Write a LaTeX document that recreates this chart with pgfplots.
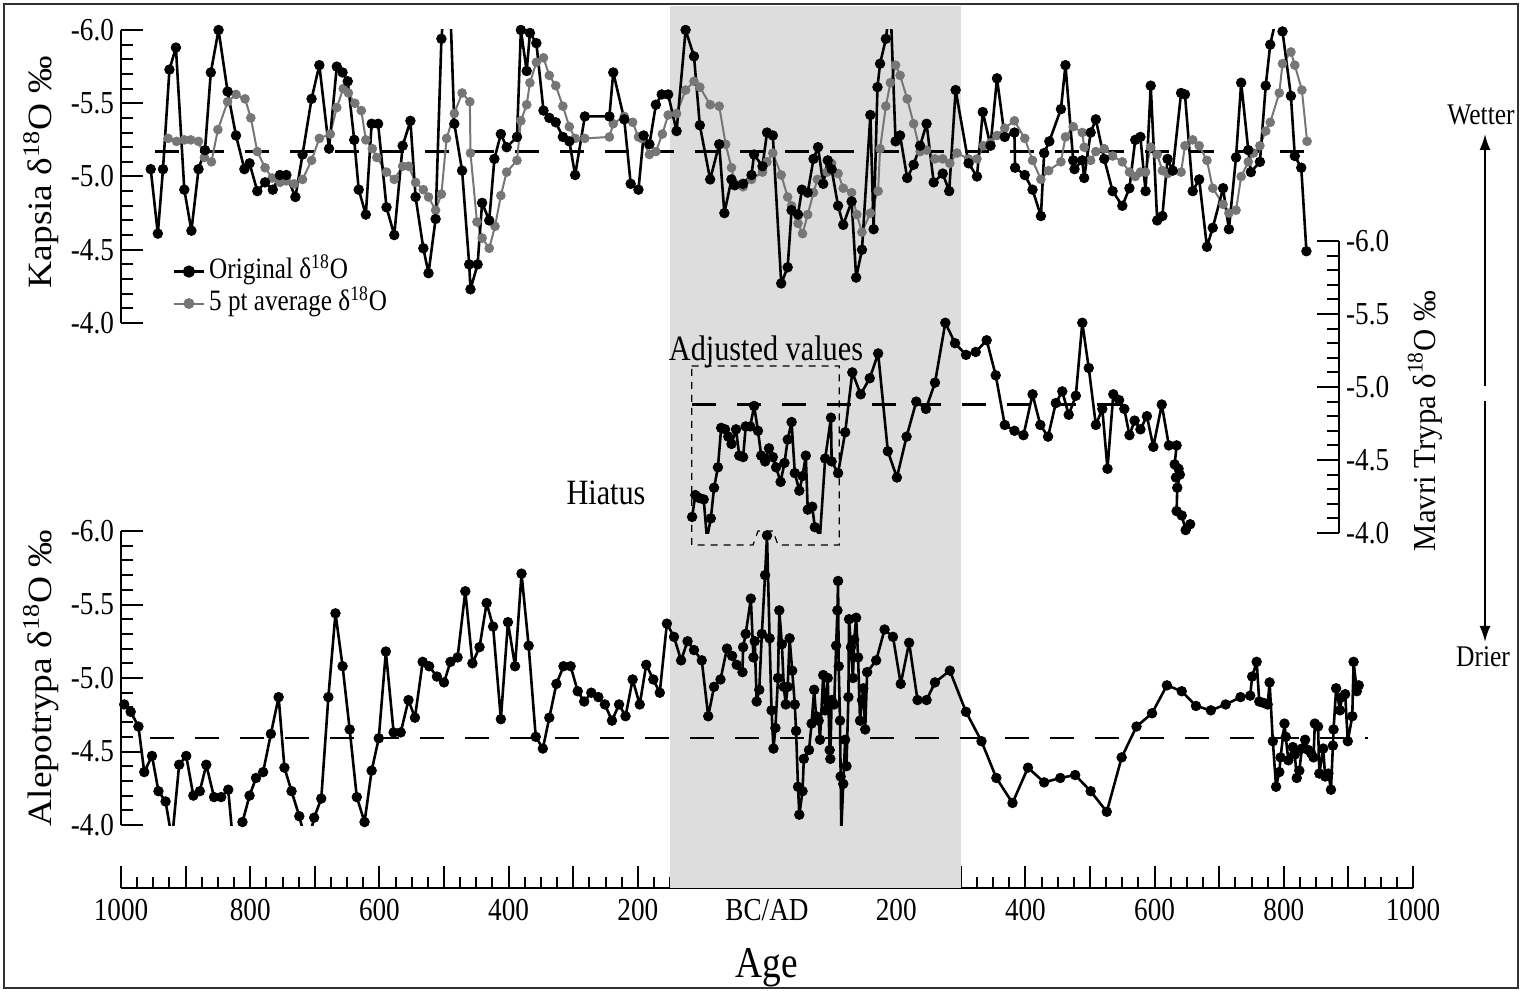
\documentclass[border=0pt]{standalone}
\usepackage{fontspec}
\setmainfont{Liberation Serif}[FakeStretch=0.85]
\newfontfamily\vfont{Liberation Serif}[FakeStretch=1.1]
\newfontfamily\vfontb{Liberation Serif}[FakeStretch=0.96]
\usepackage{pgfplots}
\usepackage{pgfplotstable}
\pgfplotsset{compat=1.18}
\usetikzlibrary{arrows.meta}

\definecolor{avg}{RGB}{118,118,118}
\definecolor{shade}{RGB}{221,221,221}
\definecolor{framec}{RGB}{50,50,50}

\newcommand\tickfont{\fontsize{16}{18}\selectfont}
\newcommand\vlabfont{\vfont\fontsize{17}{19}\selectfont}
\newcommand\legfont{\fontsize{14.8}{16}\selectfont}
\newcommand\annfont{\fontsize{17.8}{20}\selectfont}
\newcommand\smallfont{\fontsize{15}{17}\selectfont}

% Kapsia, original record
\pgfplotstableread{
x y
-954 -5.05
-943 -4.61
-935 -5.05
-925 -5.73
-915 -5.88
-902 -4.91
-891 -4.63
-880 -5.05
-870 -5.18
-861 -5.71
-849 -6.00
-835 -5.58
-822 -5.28
-809 -5.05
-801 -5.09
-789 -4.90
-777 -4.96
-765 -4.91
-754 -5.01
-744 -5.01
-730 -4.86
-719 -5.15
-705 -5.53
-693 -5.76
-678 -5.19
-666 -5.75
-657 -5.71
-649 -5.65
-639 -5.25
-632 -4.91
-621 -4.74
-612 -5.36
-602 -5.36
-589 -4.79
-577 -4.60
-564 -5.21
-552 -5.38
-544 -4.86
-532 -4.51
-524 -4.34
-513 -4.71
-504 -5.94
-493 -6.50
-484 -5.36
-472 -5.04
-461 -4.40
-459 -4.23
-448 -4.40
-441 -4.82
-430 -4.70
-422 -5.12
-412 -5.29
-403 -5.20
-387 -5.27
-381 -6.00
-372 -5.72
-367 -5.98
-357 -5.91
-346 -5.45
-337 -5.40
-327 -5.37
-316 -5.27
-306 -5.24
-297 -5.01
-282 -5.41
-244 -5.41
-238 -5.71
-221 -5.39
-211 -4.95
-199 -4.91
-191 -5.28
-182 -5.22
-172 -5.49
-163 -5.56
-153 -5.56
-140 -5.31
-126 -6.00
-113 -5.82
-104 -5.35
-88 -4.98
-74 -5.22
-66 -4.75
-55 -4.98
-50 -4.94
-37 -4.95
-24 -5.01
-20 -5.15
-7 -5.07
0 -5.30
9 -5.28
22 -4.27
32 -4.38
38 -4.77
48 -4.74
54 -4.91
63 -4.89
72 -5.12
79 -5.20
87 -4.95
94 -5.11
100 -5.05
110 -4.80
118 -4.67
131 -4.83
138 -4.31
147 -4.50
160 -5.42
165 -4.64
171 -5.61
175 -5.77
184 -5.94
191 -6.19
199 -5.24
206 -5.28
217 -4.99
227 -5.08
237 -5.21
247 -5.36
258 -4.96
272 -5.02
282 -4.90
292 -5.59
312 -5.09
325 -5.00
334 -5.44
346 -5.21
356 -5.67
368 -5.27
383 -5.30
384 -5.06
399 -5.01
411 -4.91
424 -4.73
429 -5.16
437 -5.24
455 -5.46
462 -5.76
474 -5.11
476 -5.05
488 -5.11
491 -4.99
501 -5.30
509 -5.39
522 -5.12
535 -4.90
550 -4.80
561 -4.92
570 -5.25
578 -5.27
586 -4.90
594 -5.62
604 -4.70
612 -4.73
620 -5.12
628 -5.04
641 -5.57
647 -5.56
659 -4.90
669 -4.98
681 -4.52
690 -4.65
706 -4.92
715 -4.64
726 -5.13
734 -5.64
745 -5.18
749 -5.03
763 -5.10
772 -5.62
779 -5.90
787 -6.06
798 -5.99
811 -5.55
817 -5.14
827 -5.06
835 -4.49
}\kapsia

% Kapsia, 5 pt average
\pgfplotstableread{
x y
-927 -5.26
-914 -5.24
-902 -5.25
-892 -5.25
-880 -5.24
-871 -5.13
-860 -5.10
-850 -5.32
-835 -5.51
-822 -5.56
-808 -5.53
-799 -5.40
-789 -5.17
-777 -5.06
-766 -4.99
-754 -4.96
-744 -4.97
-732 -4.95
-719 -4.98
-705 -5.11
-693 -5.26
-676 -5.29
-666 -5.47
-656 -5.60
-648 -5.57
-638 -5.50
-628 -5.45
-621 -5.25
-611 -5.19
-604 -5.13
-589 -5.03
-577 -4.98
-564 -5.07
-555 -5.07
-544 -4.96
-532 -4.91
-524 -4.86
-513 -4.77
-504 -4.88
-496 -5.26
-484 -5.43
-472 -5.57
-460 -5.51
-459 -5.16
-449 -4.69
-441 -4.58
-430 -4.51
-421 -4.66
-412 -4.87
-403 -5.03
-387 -5.11
-381 -5.38
-372 -5.49
-367 -5.64
-357 -5.78
-346 -5.81
-337 -5.69
-327 -5.62
-316 -5.48
-306 -5.34
-297 -5.26
-282 -5.26
-244 -5.27
-238 -5.36
-221 -5.41
-208 -5.37
-199 -5.27
-194 -5.26
-182 -5.15
-172 -5.17
-162 -5.29
-153 -5.42
-140 -5.43
-126 -5.59
-113 -5.65
-104 -5.61
-88 -5.49
-74 -5.48
-64 -5.22
-55 -5.06
-50 -4.95
-37 -4.93
-24 -4.98
-7 -5.03
0 -5.10
9 -5.16
22 -5.01
32 -4.86
38 -4.80
48 -4.68
55 -4.61
63 -4.74
72 -4.89
78 -4.98
93 -5.03
100 -5.09
110 -5.02
118 -4.92
131 -4.89
139 -4.74
147 -4.62
160 -4.75
172 -4.90
175 -5.19
184 -5.48
191 -5.64
199 -5.76
206 -5.69
217 -5.53
227 -5.36
237 -5.17
247 -5.18
260 -5.12
272 -5.12
283 -5.09
294 -5.16
312 -5.12
325 -5.12
335 -5.21
346 -5.23
356 -5.28
368 -5.33
383 -5.38
399 -5.26
411 -5.11
424 -4.98
436 -5.04
455 -5.10
462 -5.27
474 -5.34
488 -5.30
491 -5.20
501 -5.11
509 -5.17
522 -5.19
535 -5.14
550 -5.10
561 -5.03
570 -5.00
578 -5.03
586 -5.03
594 -5.20
604 -5.15
612 -5.04
620 -5.02
628 -5.04
641 -5.03
647 -5.21
659 -5.25
669 -5.21
681 -5.11
690 -4.92
706 -4.81
715 -4.75
726 -4.77
734 -5.00
745 -5.10
753 -5.16
763 -5.21
772 -5.31
779 -5.37
793 -5.57
798 -5.77
811 -5.85
817 -5.76
828 -5.59
836 -5.24
}\kapsiaavg

% Mavri Trypa
\pgfplotstableread{
x y
-116 -4.11
-111 -4.26
-105 -4.24
-98 -4.23
-93 -3.96
-87 -4.10
-82 -4.31
-76 -4.45
-71 -4.72
-65 -4.71
-60 -4.66
-55 -4.61
-48 -4.71
-43 -4.53
-37 -4.52
-33 -4.73
-26 -4.73
-20 -4.87
-14 -4.70
-9 -4.53
-3 -4.49
3 -4.58
9 -4.52
14 -4.45
21 -4.35
27 -4.48
32 -4.64
38 -4.76
43 -4.41
50 -4.29
55 -4.39
60 -4.53
63 -4.16
70 -4.18
74 -4.04
82 -3.98
90 -4.51
99 -4.79
100 -4.49
110 -4.41
121 -4.69
132 -5.10
145 -4.95
159 -5.06
172 -5.23
187 -4.56
201 -4.38
216 -4.66
231 -4.90
246 -4.85
260 -5.03
276 -5.44
291 -5.30
308 -5.22
323 -5.24
340 -5.32
354 -5.08
368 -4.74
383 -4.70
397 -4.67
411 -4.95
423 -4.74
435 -4.66
447 -4.89
457 -4.97
467 -4.81
478 -4.94
488 -5.44
498 -5.13
509 -4.74
519 -4.85
527 -4.44
536 -4.95
545 -4.91
553 -4.85
561 -4.67
569 -4.77
578 -4.71
588 -4.80
598 -4.59
611 -4.88
622 -4.60
634 -4.60
631 -4.47
637 -4.44
633 -4.38
639 -4.40
635 -4.31
634 -4.15
642 -4.12
648 -4.02
655 -4.06
}\mavri

% Alepotrypa
\pgfplotstableread{
x y
-1008 -4.88
-995 -4.82
-985 -4.77
-973 -4.67
-964 -4.36
-952 -4.47
-942 -4.23
-931 -4.16
-921 -3.90
-910 -4.41
-899 -4.47
-888 -4.20
-878 -4.23
-868 -4.41
-856 -4.19
-845 -4.19
-834 -4.24
-827 -3.90
-812 -4.02
-801 -4.20
-791 -4.32
-780 -4.36
-768 -4.62
-756 -4.87
-747 -4.39
-736 -4.23
-724 -4.06
-712 -3.85
-701 -4.05
-690 -4.18
-679 -4.87
-668 -5.44
-657 -5.08
-646 -4.65
-635 -4.19
-623 -4.02
-612 -4.37
-601 -4.59
-590 -5.18
-578 -4.63
-567 -4.63
-555 -4.85
-545 -4.73
-533 -5.11
-523 -5.08
-511 -5.01
-500 -4.97
-490 -5.11
-479 -5.14
-467 -5.59
-456 -5.10
-445 -5.21
-434 -5.51
-424 -5.35
-412 -4.72
-401 -5.38
-390 -5.08
-380 -5.71
-369 -5.22
-358 -4.60
-347 -4.52
-337 -4.73
-326 -4.96
-315 -5.08
-304 -5.08
-293 -4.91
-283 -4.84
-272 -4.90
-261 -4.87
-251 -4.82
-240 -4.71
-229 -4.82
-219 -4.74
-208 -4.99
-197 -4.82
-187 -5.09
-176 -4.99
-166 -4.90
-155 -5.37
-144 -5.28
-133 -5.12
-123 -5.25
-113 -5.19
-101 -5.12
-91 -4.74
-82 -4.94
-72 -4.99
-62 -5.20
-54 -5.15
-47 -5.09
-38 -5.04
-37 -5.21
-33 -5.30
-25 -5.54
-21 -5.14
-19 -5.25
-16 -4.84
-12 -4.92
-8 -5.30
-3 -5.70
0 -5.97
4 -5.27
7 -4.78
10 -4.52
13 -4.66
17 -5.00
19 -5.46
23 -5.23
26 -4.94
29 -4.82
32 -4.94
35 -5.27
39 -5.05
43 -4.82
45 -4.64
48 -4.26
50 -4.07
55 -4.23
57 -4.45
65 -4.51
69 -4.69
73 -4.92
76 -4.74
80 -4.71
82 -4.58
87 -5.02
90 -4.78
94 -5.00
97 -4.51
98 -4.45
100 -4.85
104 -4.82
107 -5.22
109 -5.46
110 -5.66
111 -5.08
113 -4.71
114 -4.33
115 -3.96
118 -4.28
121 -4.58
123 -4.40
126 -4.87
127 -5.40
130 -5.21
133 -5.00
135 -5.26
138 -5.41
141 -5.14
144 -4.71
147 -4.85
149 -4.93
152 -4.65
155 -5.04
169 -5.12
182 -5.33
195 -5.28
207 -4.96
220 -5.24
233 -4.85
247 -4.85
260 -4.97
283 -5.05
308 -4.77
332 -4.57
355 -4.32
380 -4.15
404 -4.39
429 -4.29
454 -4.32
477 -4.34
501 -4.23
526 -4.09
549 -4.46
572 -4.67
596 -4.76
619 -4.95
642 -4.91
664 -4.81
687 -4.78
710 -4.82
733 -4.87
748 -4.88
751 -5.01
758 -5.11
762 -4.84
769 -4.83
775 -4.82
778 -4.97
783 -4.57
788 -4.26
793 -4.36
795 -4.46
801 -4.69
803 -4.60
807 -4.44
814 -4.53
817 -4.48
820 -4.32
824 -4.37
828 -4.52
833 -4.58
838 -4.51
842 -4.49
846 -4.46
848 -4.69
853 -4.67
855 -4.35
861 -4.52
864 -4.33
869 -4.35
873 -4.24
876 -4.54
877 -4.65
881 -4.93
887 -4.78
890 -4.87
895 -4.89
899 -4.57
906 -4.74
908 -5.11
913 -4.91
916 -4.95
}\alepo

\pgfplotsset{
  panel/.style={
    scale only axis, anchor=south west,
    ymin=-6, ymax=-4, y dir=reverse,
    axis x line=none,
    ytick={-6,-5.5,-5,-4.5,-4},
    yticklabels={-6.0,-5.5,-5.0,-4.5,-4.0},
    minor y tick num=4,
    tick align=inside,
    major tick length=10.8pt, minor tick length=5.8pt,
    tick style={black, line width=1pt},
    axis line style={black, line width=1pt, -},
    yticklabel style={font=\tickfont},
    ylabel style={font=\vlabfont, anchor=center},
  },
  orig/.style={black, line width=1.3pt, line join=round},
  origm/.style={black, only marks, mark=*, mark size=2.4pt, restrict y to domain=-6.05:-3.97},
  refline/.style={black, line width=1.2pt, dash pattern=on 12pt off 10.5pt},
}

\begin{document}
\begin{tikzpicture}
\path[use as bounding box] (0,0) rectangle (765pt,495.5pt);

% time axis and shaded interval
\begin{axis}[
  at={(60.5pt,51.5pt)}, anchor=south west, scale only axis,
  width=646pt, height=441pt,
  xmin=-1000, xmax=1000, ymin=0, ymax=1,
  axis x line*=bottom, axis y line=none,
  xtick={-1000,-900,...,1000},
  xticklabels={1000,,800,,600,,400,,200,,BC/AD,,200,,400,,600,,800,,1000},
  minor x tick num=3,
  tick align=inside,
  major tick length=11pt, minor tick length=5.5pt,
  tick style={black, line width=1pt},
  axis line style={black, line width=1pt, -},
  xticklabel style={font=\tickfont, yshift=-2pt},
  xlabel={Age},
  xlabel style={font=\fontsize{22}{24}\selectfont, at={(axis description cs:0.5,-0.0907)}, anchor=center},
]
\addplot[fill=shade, draw=none] coordinates {(-150,0) (-150,1) (300,1) (300,0)};
\end{axis}

% Kapsia
\begin{axis}[panel,
  at={(60.5pt,334pt)}, width=646pt, height=146.5pt,
  xmin=-1000, xmax=1000,
  axis y line*=left,
  ylabel={Kapsia δ\textsuperscript{18}O ‰},
  ylabel style={at={(axis description cs:-0.0619,0.514)}},
  legend style={at={(axis description cs:0.035,0.235)}, anchor=north west,
    draw=none, fill=none, font=\legfont, row sep=3pt,
    nodes={inner sep=1pt, text height=9pt, text depth=2pt}},
  legend cell align=left,
  legend image code/.code={\draw[mark repeat=2, mark phase=2, #1] plot coordinates {(0pt,0pt) (7.5pt,0pt) (15pt,0pt)};},
]
\addplot[forget plot, refline] coordinates {(-947,-5.17) (845,-5.17)};
\addplot[forget plot, avg, line width=1pt, line join=round] table {\kapsiaavg};
\addplot[forget plot, avg, only marks, mark=*, mark size=2.2pt, restrict y to domain=-6.05:-3.97] table {\kapsiaavg};
\addplot[forget plot, orig] table {\kapsia};
\addplot[forget plot, origm] table {\kapsia};
\addlegendimage{black, line width=1.3pt, mark=*, mark size=2.4pt}
\addlegendentry{\hspace{1pt}Original δ\textsuperscript{18}O}
\addlegendimage{avg, line width=1pt, mark=*, mark size=2.2pt}
\addlegendentry{\hspace{1pt}5 pt average δ\textsuperscript{18}O}
\end{axis}

% Mavri Trypa
\begin{axis}[panel,
  at={(60.5pt,229pt)}, width=609pt, height=146pt,
  xmin=-1000, xmax=885.4,
  axis y line*=right,
  ylabel={Mavri Trypa δ\textsuperscript{18}O ‰},
  ylabel style={font=\vfontb\fontsize{16}{18}\selectfont, at={(axis description cs:1.0706,0.384)}},
]
\addplot[refline] coordinates {(-116,-4.88) (577,-4.88)};
\addplot[orig] table {\mavri};
\addplot[origm] table {\mavri};
\end{axis}

% Alepotrypa
\begin{axis}[panel,
  at={(60.5pt,83pt)}, width=646pt, height=147pt,
  xmin=-1000, xmax=1000,
  axis y line*=left,
  ylabel={Alepotrypa δ\textsuperscript{18}O ‰},
  ylabel style={at={(axis description cs:-0.0619,0.5)}},
]
\addplot[refline] coordinates {(-955,-4.59) (930,-4.59)};
\addplot[orig] table {\alepo};
\addplot[origm] table {\alepo};
\end{axis}

% annotations, in picture pixels
\begin{scope}[x=0.5pt, y=-0.5pt, shift={(0pt,495.5pt)}]
\draw[framec, line width=0.9pt] (4,4) rectangle (1518,988);
\draw[black, line width=0.6pt, dash pattern=on 3.5pt off 3pt]
  (691.7,366) -- (839.3,366) -- (839.3,545) -- (778,545) -- (773,531)
  -- (758,531) -- (753,545) -- (691.7,545) -- cycle;
\node[font=\annfont] at (766,352) {Adjusted values};
\node[font=\annfont] at (606,493) {Hiatus};
\node[font=\smallfont] at (1481,115) {Wetter};
\node[font=\smallfont] at (1483,657) {Drier};
\draw[line width=1pt, -{Latex[length=8pt,width=5.5pt]}] (1485,386) -- (1485,134);
\draw[line width=1pt, -{Latex[length=8pt,width=5.5pt]}] (1485,401) -- (1485,642);
\end{scope}
\end{tikzpicture}
\end{document}
